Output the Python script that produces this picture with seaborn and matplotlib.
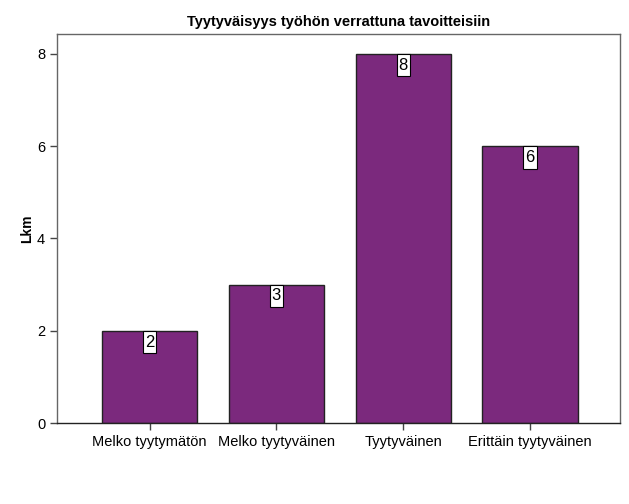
import matplotlib
matplotlib.use("Agg")
import matplotlib.pyplot as plt
from matplotlib.path import Path
import seaborn as sns
import pandas as pd

categories = ["Melko tyytymätön", "Melko tyytyväinen", "Tyytyväinen", "Erittäin tyytyväinen"]
counts = [2, 3, 8, 6]

df = pd.DataFrame({"vastaus": categories, "lkm": counts})

sns.set_style("white")
plt.rcParams['font.family'] = ['Liberation Sans', 'DejaVu Sans']
plt.rcParams['text.color'] = 'black'
plt.rcParams['xtick.color'] = 'black'
plt.rcParams['ytick.color'] = 'black'
plt.rcParams['axes.labelcolor'] = 'black'


def tall_box(x0, y0, width, height, mutation_size):
    # narrow, tall label box like SPSS value labels
    px = 0.12 * mutation_size
    py = 0.22 * mutation_size
    x0, x1 = x0 - px, x0 + width + px
    y0, y1 = y0 - py, y0 + height + py
    return Path([(x0, y0), (x1, y0), (x1, y1), (x0, y1), (x0, y0)], closed=True)


fig = plt.figure(figsize=(6.29, 5.04), dpi=100)
ax = fig.add_axes([0.0906, 0.1607, 0.8951, 0.7718])

sns.barplot(data=df, x="vastaus", y="lkm", color="#7B297D", saturation=1,
            width=0.75, edgecolor="#222222", linewidth=1, ax=ax)

for i, v in enumerate(counts):
    ax.annotate(str(v), (i, v), xytext=(0, -2.8), textcoords="offset points",
                ha="center", va="top", fontsize=12,
                bbox=dict(boxstyle=tall_box, fc="white", ec="black", lw=0.8))

ax.set_xlim(-0.73, 3.71)
ax.set_ylim(0, 8.43)
ax.set_yticks([0, 2, 4, 6, 8])
ax.set_xlabel("")
ax.set_ylabel("Lkm", fontsize=10, fontweight="bold", labelpad=2)
ax.set_title("Tyytyväisyys työhön verrattuna tavoitteisiin", fontsize=10.5,
             fontweight="bold", pad=6)

for s in ax.spines.values():
    s.set_color("#666666")
    s.set_linewidth(1)
ax.spines["bottom"].set_color("#222222")
ax.tick_params(axis="both", which="both", direction="out", length=5, width=1,
               color="#444444", labelsize=10.5, bottom=True, left=True)

fig.savefig("out.png", dpi=100)
